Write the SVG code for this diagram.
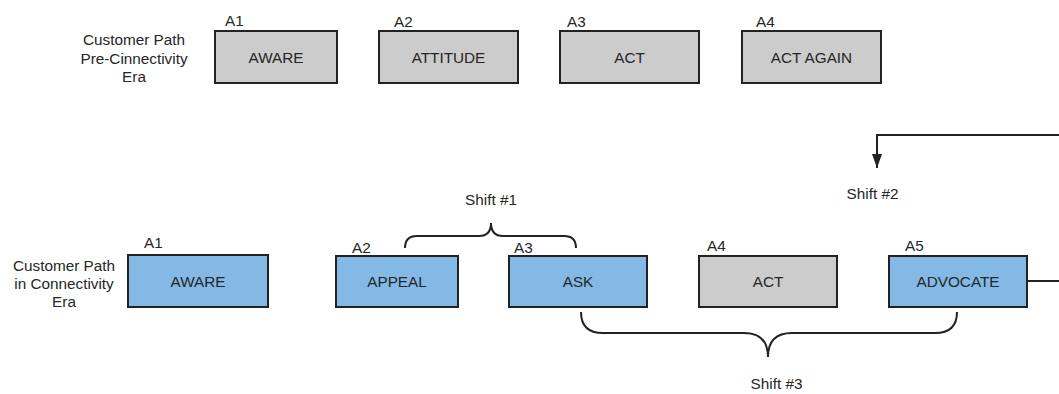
<svg xmlns="http://www.w3.org/2000/svg" width="1059" height="394" viewBox="0 0 1059 394">
  <style>
    text { font-family: "Liberation Sans", Arial, sans-serif; font-size: 15.3px; fill: #262626; }
    .mid { text-anchor: middle; }
    .box { stroke: #222222; stroke-width: 2; }
    .grey { fill: #cccccc; }
    .blue { fill: #83b9e4; }
    .line { fill: none; stroke: #222222; stroke-width: 2; }
  </style>
  <defs>
    <!-- filled triangular head, drawn along +x so orient="auto" follows the path -->
    <marker id="arrow" viewBox="0 0 14 10" refX="14" refY="5" markerWidth="14" markerHeight="10" markerUnits="userSpaceOnUse" orient="auto">
      <path d="M0,0 L14,5 L0,10 Z" fill="#222222"/>
    </marker>
  </defs>
  <rect width="1059" height="394" fill="#ffffff"/>

  <!-- Row labels -->
  <g id="label-pre">
    <text class="mid" x="134" y="45">Customer Path</text>
    <text class="mid" x="134" y="64">Pre-Cinnectivity</text>
    <text class="mid" x="134" y="82">Era</text>
  </g>
  <g id="label-conn">
    <text class="mid" x="64" y="271">Customer Path</text>
    <text class="mid" x="64" y="289">in Connectivity</text>
    <text class="mid" x="64" y="307">Era</text>
  </g>

  <!-- Pre-connectivity path -->
  <g id="pre-aware">
    <rect class="box grey" x="215" y="31" width="122" height="52"/>
    <text x="225" y="25.5">A1</text>
    <text class="mid" x="276" y="62.5">AWARE</text>
  </g>
  <g id="pre-attitude">
    <rect class="box grey" x="379" y="31" width="139" height="52"/>
    <text x="394" y="26.5">A2</text>
    <text class="mid" x="448.5" y="62.5">ATTITUDE</text>
  </g>
  <g id="pre-act">
    <rect class="box grey" x="560" y="31" width="139" height="52"/>
    <text x="567" y="26.5">A3</text>
    <text class="mid" x="629.5" y="62.5">ACT</text>
  </g>
  <g id="pre-act-again">
    <rect class="box grey" x="742" y="31" width="139" height="52"/>
    <text x="756" y="26.5">A4</text>
    <text class="mid" x="811.5" y="62.5">ACT AGAIN</text>
  </g>

  <!-- Connectivity path -->
  <g id="conn-aware">
    <rect class="box blue" x="128" y="255" width="140" height="52"/>
    <text x="144" y="248">A1</text>
    <text class="mid" x="198" y="286.5">AWARE</text>
  </g>
  <g id="conn-appeal">
    <rect class="box blue" x="336" y="256" width="122" height="51"/>
    <text x="352" y="252.5">A2</text>
    <text class="mid" x="397" y="286.5">APPEAL</text>
  </g>
  <g id="conn-ask">
    <rect class="box blue" x="509" y="256" width="138" height="51"/>
    <text x="514" y="252.5">A3</text>
    <text class="mid" x="578" y="286.5">ASK</text>
  </g>
  <g id="conn-act">
    <rect class="box grey" x="699" y="256" width="138" height="51"/>
    <text x="707" y="251">A4</text>
    <text class="mid" x="768" y="286.5">ACT</text>
  </g>
  <g id="conn-advocate">
    <rect class="box blue" x="889" y="256" width="138" height="51"/>
    <text x="905" y="251">A5</text>
    <text class="mid" x="958" y="286.5">ADVOCATE</text>
  </g>

  <!-- Connectors and braces -->
  <g id="connectors">
    <path class="line" d="M1027,281 H1068 V135 H877 V168" marker-end="url(#arrow)"/>
    <path class="line" d="M405,248 Q405,236 417,236 H479 Q491,236 491,223 Q491,236 503,236 H564 Q576,236 576,248"/>
    <path class="line" d="M581,312 Q581,333 603,333 H744 Q768,333 768,357 Q768,333 792,333 H935 Q957,333 957,312"/>
  </g>

  <g id="shift-labels">
    <text class="mid" x="491" y="204.5">Shift #1</text>
    <text class="mid" x="872.5" y="199">Shift #2</text>
    <text class="mid" x="776.5" y="388.5">Shift #3</text>
  </g>
</svg>
